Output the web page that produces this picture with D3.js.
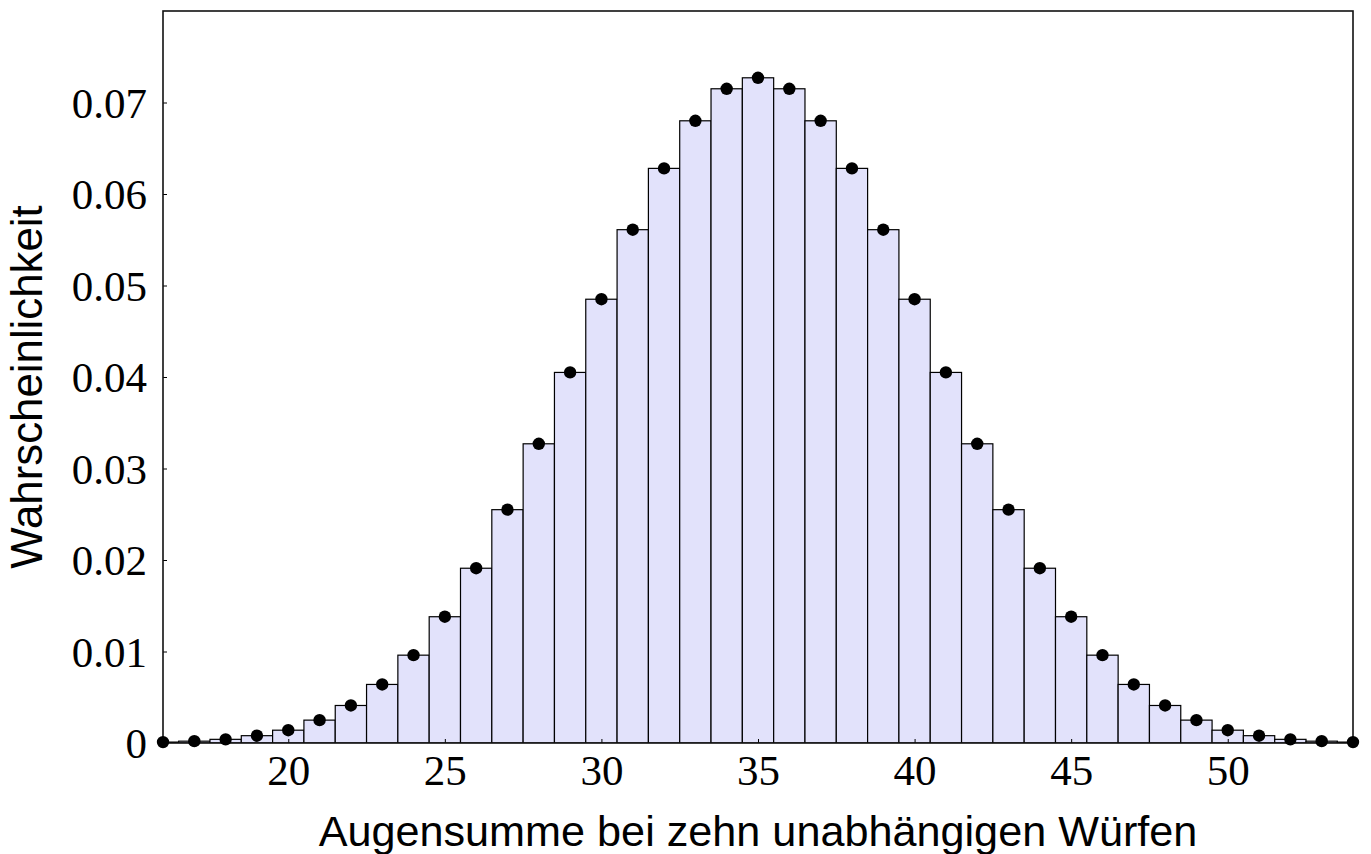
<!DOCTYPE html>
<html>
<head>
<meta charset="utf-8">
<script src="https://cdn.jsdelivr.net/npm/d3@7"></script>
<style>
    body { margin: 0; background: #fff; }
</style>
</head>
<body>
<div id="chart"></div>
<script>

var sums = [16, 17, 18, 19, 20, 21, 22, 23, 24, 25, 26, 27, 28, 29, 30, 31, 32, 33, 34, 35,
    36, 37, 38, 39, 40, 41, 42, 43, 44, 45, 46, 47, 48, 49, 50, 51, 52, 53, 54];
var probs = [0.0001, 0.0002, 0.0004, 0.0008, 0.0014, 0.0025, 0.0041, 0.0064, 0.0096, 0.0138,
    0.0191, 0.0255, 0.0327, 0.0405, 0.0485, 0.0561, 0.0628, 0.0680, 0.0715, 0.0727,
    0.0715, 0.0680, 0.0628, 0.0561, 0.0485, 0.0405, 0.0327, 0.0255, 0.0191, 0.0138,
    0.0096, 0.0064, 0.0041, 0.0025, 0.0014, 0.0008, 0.0004, 0.0002, 0.0001];
var xTicks = [20, 25, 30, 35, 40, 45, 50];
var yTicks = [0, 0.01, 0.02, 0.03, 0.04, 0.05, 0.06, 0.07];
var xDomain = [16, 54];
var yDomain = [0, 0.08];


Histogram = function(_parentElement, _sums, _probs){
    this.parentElement = _parentElement;
    this.data = _sums.map(function(s, i) { return { k: s, p: _probs[i] }; });

    this.initVis();
}

Histogram.prototype.initVis = function(){
    var vis = this;

    vis.margin = { top: 11, right: 18, bottom: 111, left: 163 };
    vis.width = 1371 - vis.margin.left - vis.margin.right;
    vis.height = 854 - vis.margin.top - vis.margin.bottom;

    vis.svg = d3.select("#" + vis.parentElement).append("svg")
        .attr("width", vis.width + vis.margin.left + vis.margin.right)
        .attr("height", vis.height + vis.margin.top + vis.margin.bottom)
        .append("g")
        .attr("transform", "translate(" + vis.margin.left + "," + vis.margin.top + ")");

    vis.x = d3.scaleLinear().domain(xDomain).range([0, vis.width]);
    vis.y = d3.scaleLinear().domain(yDomain).range([vis.height, 0]);

    vis.svg.append("clipPath")
        .attr("id", "plot-clip")
        .append("rect")
        .attr("width", vis.width)
        .attr("height", vis.height);

    vis.updateVis();
};

Histogram.prototype.updateVis = function(){
    var vis = this;

    // Balken, je eine Einheit breit, um k zentriert
    vis.svg.append("g")
        .attr("clip-path", "url(#plot-clip)")
        .selectAll("rect.bar")
        .data(vis.data)
        .enter()
        .append("rect")
        .attr("class", "bar")
        .attr("x", function(d) { return vis.x(d.k - 0.5); })
        .attr("width", function(d) { return vis.x(d.k + 0.5) - vis.x(d.k - 0.5); })
        .attr("y", function(d) { return vis.y(d.p); })
        .attr("height", function(d) { return vis.y(0) - vis.y(d.p); })
        .attr("fill", "#e2e2fb")
        .attr("stroke", "#000")
        .attr("stroke-width", 1.2);

    // Achsen
    vis.xAxis = d3.axisBottom(vis.x)
        .tickValues(xTicks)
        .tickSizeInner(-4)
        .tickSizeOuter(0)
        .tickPadding(13)
        .tickFormat(d3.format("d"));

    vis.yAxis = d3.axisLeft(vis.y)
        .tickValues(yTicks)
        .tickSizeInner(-4)
        .tickSizeOuter(0)
        .tickPadding(16)
        .tickFormat(function(d) { return d === 0 ? "0" : d3.format(".2f")(d); });

    vis.svg.append("g")
        .attr("class", "x-axis")
        .attr("transform", "translate(0," + vis.height + ")")
        .call(vis.xAxis);

    vis.svg.append("g")
        .attr("class", "y-axis")
        .call(vis.yAxis);

    vis.svg.selectAll(".x-axis text, .y-axis text")
        .attr("font-family", "'Liberation Serif', 'DejaVu Serif', serif")
        .attr("font-size", 43)
        .attr("fill", "#000");
    vis.svg.selectAll(".x-axis text").attr("dy", "0.68em");
    vis.svg.selectAll(".y-axis text").attr("dy", "0.34em");
    vis.svg.selectAll(".x-axis path, .y-axis path").remove();
    vis.svg.selectAll(".tick line").attr("stroke", "#000").attr("stroke-width", 1);

    // Rahmen
    vis.svg.append("rect")
        .attr("width", vis.width)
        .attr("height", vis.height)
        .attr("fill", "none")
        .attr("stroke", "#111")
        .attr("stroke-width", 1.6);

    // Punkte
    vis.svg.selectAll("circle.dot")
        .data(vis.data)
        .enter()
        .append("circle")
        .attr("class", "dot")
        .attr("cx", function(d) { return vis.x(d.k); })
        .attr("cy", function(d) { return vis.y(d.p); })
        .attr("r", 6.2)
        .attr("fill", "#000");

    // Achsenbeschriftungen
    vis.svg.append("text")
        .attr("x", vis.width / 2)
        .attr("y", vis.height + 103)
        .attr("text-anchor", "middle")
        .attr("font-family", "'Liberation Sans', Arial, sans-serif")
        .attr("font-size", 43.2)
        .text("Augensumme bei zehn unabhängigen Würfen");

    vis.svg.append("text")
        .attr("transform", "translate(" + (-121) + "," + (vis.height / 2 + 10) + ") rotate(-90)")
        .attr("text-anchor", "middle")
        .attr("font-family", "'Liberation Sans', Arial, sans-serif")
        .attr("font-size", 43.8)
        .text("Wahrscheinlichkeit");
};

var histogram = new Histogram("chart", sums, probs);

</script>
</body>
</html>
